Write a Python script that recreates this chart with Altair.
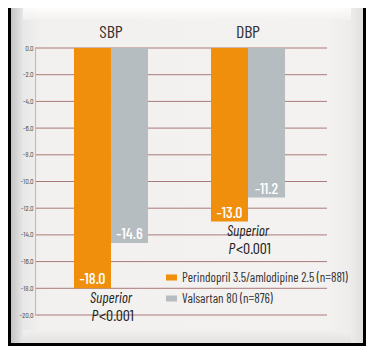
import altair as alt
import pandas as pd

# ---- data ----
groups = ["SBP", "SBP", "DBP", "DBP"]
treatments = [
    "Perindopril 3.5/amlodipine 2.5 (n=881)",
    "Valsartan 80 (n=876)",
    "Perindopril 3.5/amlodipine 2.5 (n=881)",
    "Valsartan 80 (n=876)",
]
values = [-18.0, -14.6, -13.0, -11.2]
group_order = ["SBP", "DBP"]
treatment_order = ["Perindopril 3.5/amlodipine 2.5 (n=881)", "Valsartan 80 (n=876)"]
bar_colors = ["#EF8F0C", "#B6BDC1"]
y_ticks = [0, -2, -4, -6, -8, -10, -12, -14, -16, -18, -20]
annot_groups = ["SBP", "DBP"]
annot_values = [-18.0, -13.0]  # orange bar ends under which the notes sit
annot_line1 = ["Superior", "Superior"]

FONT = "Barlow Condensed, Archivo Narrow, Liberation Sans Narrow, sans-serif"

df = pd.DataFrame({"group": groups, "treatment": treatments, "value": values})
df["label"] = [f"{v:.1f}" for v in values]
ticks_df = pd.DataFrame({"value": y_ticks})
ann_df = pd.DataFrame({"group": annot_groups, "value": annot_values, "l1": annot_line1})

W, H = 292, 267
yscale = alt.Scale(domain=[-20, 0], nice=False, zero=False)
xscale = alt.Scale(domain=group_order, range=[7.5, 281.5], paddingInner=0, paddingOuter=0)

y_axis = alt.Axis(title=None, values=y_ticks, grid=False, ticks=False,
                  domainColor="#cfb0b0", labelFont=FONT, labelFontSize=8,
                  labelColor="#555555", labelPadding=2, zindex=1,
                  labelOverlap=False, labelFlush=False,
                  labelExpr="(datum.value < 0 ? '-' : '') + format(abs(datum.value), '.1f')")
x_axis = alt.Axis(orient="top", title=None, labelAngle=0, domain=False, ticks=False,
                  labelFont=FONT, labelFontSize=18, labelColor="#333333",
                  labelPadding=7, zindex=1)

def Y():
    return alt.Y("value:Q", scale=yscale, axis=y_axis, title=None)

def X():
    return alt.X("group:N", sort=group_order, scale=xscale, axis=x_axis, title=None)

# ---- panel background (decorative) ----
one = pd.DataFrame({"a": [0]})
panel = alt.Chart(one).mark_rect(
    fill=alt.LinearGradient(
        gradient="linear", x1=0, x2=1, y1=0, y2=0,
        stops=[
            alt.GradientStop(offset=0, color="#c4c4c4"),
            alt.GradientStop(offset=0.035, color="#e8e8e8"),
            alt.GradientStop(offset=0.09, color="#f3f1ef"),
            alt.GradientStop(offset=0.9, color="#f4f2f0"),
            alt.GradientStop(offset=0.965, color="#eeecea"),
            alt.GradientStop(offset=1, color="#e2e0de"),
        ],
    )
).encode(x=alt.value(-24), x2=alt.value(328), y=alt.value(-40), y2=alt.value(295))

top_bevel = alt.Chart(one).mark_rect(
    fill=alt.LinearGradient(
        gradient="linear", x1=0, x2=0, y1=0, y2=1,
        stops=[
            alt.GradientStop(offset=0, color="#ffffff"),
            alt.GradientStop(offset=1, color="#f4f2f0"),
        ],
    ),
    opacity=0.8,
).encode(x=alt.value(-12), x2=alt.value(316), y=alt.value(-40), y2=alt.value(-28))

bottom_bevel = alt.Chart(one).mark_rect(
    fill=alt.LinearGradient(
        gradient="linear", x1=0, x2=0, y1=0, y2=1,
        stops=[
            alt.GradientStop(offset=0, color="#f2f0ee"),
            alt.GradientStop(offset=1, color="#e4e2e0"),
        ],
    ),
).encode(x=alt.value(-12), x2=alt.value(316), y=alt.value(282), y2=alt.value(295))

# ---- gridlines ----
grid = alt.Chart(ticks_df).mark_rule(color="#a97a7a", strokeWidth=1).encode(y=Y())

# ---- bars ----
base = alt.Chart(df)
bars = base.mark_bar(size=37).encode(
    x=X(),
    xOffset=alt.XOffset("treatment:N", sort=treatment_order,
                        scale=alt.Scale(paddingInner=0, paddingOuter=0.85)),
    y=Y(),
    color=alt.Color(
        "treatment:N", sort=treatment_order,
        scale=alt.Scale(domain=treatment_order, range=bar_colors),
        legend=alt.Legend(
            title=None, orient="none", legendX=130, legendY=223, padding=0,
            symbolType="M-1,-0.55L1,-0.55L1,0.55L-1,0.55Z", symbolSize=121,
            symbolStrokeWidth=0, labelFont=FONT, labelFontSize=13, labelLimit=0,
            labelColor="#333333", labelOffset=4, rowPadding=7, zindex=1,
        ),
    ),
)

value_labels = base.mark_text(
    font=FONT, fontSize=16, fontWeight=500, color="white", baseline="alphabetic", dy=-4
).encode(
    x=X(),
    xOffset=alt.XOffset("treatment:N", sort=treatment_order),
    y=Y(),
    text="label:N",
)

ann = alt.Chart(ann_df)
sup = ann.mark_text(font=FONT, fontSize=15, fontStyle="italic", color="#222222",
                    baseline="alphabetic", dy=14.5).encode(x=X(), y=Y(), text="l1:N")
p_it = ann.mark_text(font=FONT, fontSize=16, fontStyle="italic", color="#222222",
                     baseline="alphabetic", align="right", dx=-13, dy=32.5, text="P").encode(
    x=X(), y=Y())
p_rest = ann.mark_text(font=FONT, fontSize=16, color="#222222",
                       baseline="alphabetic", align="left", dx=-12, dy=32.5, text="<0.001").encode(
    x=X(), y=Y())

chart = alt.layer(
    panel, top_bevel, bottom_bevel, grid, bars, value_labels, sup, p_it, p_rest
).properties(
    width=W, height=H,
    padding={"left": 27, "top": 40, "right": 39, "bottom": 31},
    autosize=alt.AutoSizeParams(type="none"),
    background="black",
).configure_view(stroke=None).resolve_scale(xOffset="shared")

chart.save("out.html", embed_options={"renderer": "svg", "actions": False})
